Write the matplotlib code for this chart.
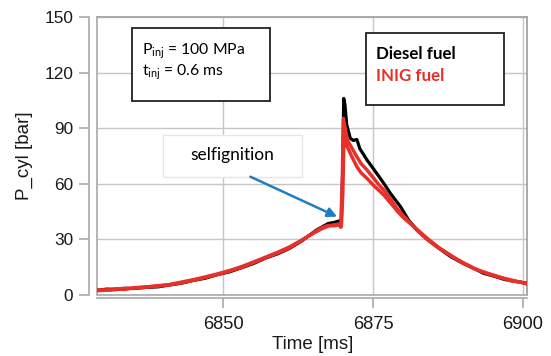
import matplotlib
matplotlib.use("Agg")
import matplotlib.pyplot as plt
from matplotlib.patches import Rectangle

# cylinder pressure traces
diesel_t = [6829.0, 6830.5, 6832.0, 6833.5, 6835.0, 6837.0, 6839.0, 6841.0, 6843.0,
            6845.0, 6847.0, 6849.0, 6851.0, 6853.0, 6855.0, 6857.0, 6859.0, 6861.0,
            6863.0, 6864.5, 6865.5, 6866.5, 6867.5, 6868.5, 6869.3, 6869.7, 6869.95,
            6870.1, 6870.3, 6870.6, 6871.2, 6871.7, 6872.3, 6872.8, 6873.4, 6874.0,
            6875.0, 6876.0, 6876.8, 6878.0, 6879.6, 6881.0, 6882.4, 6884.0, 6886.0,
            6888.0, 6890.0, 6892.0, 6893.5, 6895.0, 6897.0, 6899.0, 6900.8]
diesel_p = [2.6, 3.2, 2.9, 3.6, 3.5, 4.1, 4.4, 5.4, 6.4,
            7.9, 9.1, 11.0, 12.5, 14.7, 17.0, 19.9, 22.2, 25.1,
            29.0, 32.6, 35.0, 36.8, 38.6, 39.2, 40.0, 39.0, 70.0,
            106.2, 103.0, 92.0, 84.6, 83.5, 84.0, 79.0, 76.0, 72.9,
            68.5, 64.0, 60.3, 54.5, 47.7, 40.2, 35.1, 30.2, 25.3,
            20.7, 17.2, 14.2, 11.7, 10.4, 8.4, 7.3, 6.3]

inig1_t = [6829.0, 6830.5, 6832.0, 6833.5, 6835.0, 6837.0, 6839.0, 6841.0, 6843.0,
           6845.0, 6847.0, 6849.0, 6851.0, 6853.0, 6855.0, 6857.0, 6859.0, 6861.0,
           6863.0, 6864.5, 6865.5, 6866.5, 6867.5, 6868.5, 6869.3, 6869.6, 6869.85,
           6870.05, 6870.7, 6871.5, 6872.3, 6873.0, 6874.0, 6875.0, 6876.0, 6876.8,
           6878.0, 6879.0, 6880.0, 6881.3, 6882.4, 6884.0, 6885.5, 6887.0, 6888.5,
           6890.0, 6892.0, 6894.0, 6896.0, 6898.0, 6900.0, 6900.8]
inig1_p = [2.3, 2.8, 3.4, 3.0, 3.9, 4.4, 4.8, 5.7, 7.0,
           8.3, 9.8, 11.4, 13.2, 15.3, 17.8, 20.4, 23.0, 25.9,
           29.5, 32.4, 34.2, 35.9, 37.2, 37.9, 38.3, 36.6, 60.0,
           95.4, 83.7, 79.2, 74.7, 71.0, 67.5, 63.5, 59.5, 56.7,
           51.5, 46.8, 43.0, 38.7, 34.8, 30.3, 26.5, 23.4, 20.2,
           17.6, 14.3, 11.6, 9.7, 8.2, 6.6, 6.1]

inig2_t = [6829.0, 6831.0, 6833.0, 6835.0, 6837.0, 6839.0, 6841.0, 6843.0, 6845.0,
           6847.0, 6849.0, 6851.0, 6853.0, 6855.0, 6857.0, 6859.0, 6861.0, 6863.0,
           6865.0, 6866.5, 6867.5, 6868.5, 6869.3, 6869.7, 6869.95, 6870.15, 6870.4,
           6870.7, 6871.5, 6872.3, 6873.0, 6874.0, 6875.0, 6876.0, 6876.8, 6878.0,
           6879.0, 6880.0, 6881.3, 6882.4, 6884.0, 6886.0, 6888.0, 6890.0, 6892.0,
           6894.0, 6896.0, 6898.0, 6900.0, 6900.8]
inig2_p = [2.8, 2.6, 3.5, 3.7, 4.2, 5.0, 5.5, 6.6, 8.0,
           9.5, 11.1, 12.9, 14.9, 17.4, 20.1, 22.6, 25.4, 29.2,
           33.6, 36.4, 37.6, 37.4, 37.8, 37.0, 55.0, 88.0, 83.0,
           80.0, 74.5, 69.3, 66.0, 63.0, 59.5, 56.5, 54.0, 49.5,
           45.5, 42.0, 38.4, 35.3, 30.8, 25.6, 21.4, 17.4, 14.0,
           11.9, 9.9, 7.7, 6.8, 5.9]

x_ticks = [6850, 6875, 6900]
y_ticks = [0, 30, 60, 90, 120, 150]

RED = "#e8302b"
GRAY = "#a9a9a9"

fig = plt.figure(figsize=(5.51, 3.56), dpi=100)
ax = fig.add_axes([0.1766, 0.1713, 0.7804, 0.7801])

ax.plot(diesel_t, diesel_p, color="black", lw=2.3, zorder=3)
ax.plot(inig1_t, inig1_p, color=RED, lw=2.5, zorder=4)
ax.plot(inig2_t, inig2_p, color=RED, lw=2.5, zorder=4)

ax.set_xlim(6828.9, 6900.8)
ax.set_ylim(0, 150)
ax.set_xticks(x_ticks)
ax.set_yticks(y_ticks)
ax.grid(True, color="#c6c6c6", lw=1.0, zorder=0)
ax.set_axisbelow(True)

# gray frame around the plotting area, axes pushed out a little
for side in ["top", "right"]:
    ax.spines[side].set_color(GRAY)
    ax.spines[side].set_linewidth(1.2)
ax.spines["left"].set_position(("outward", 5.8))
ax.spines["bottom"].set_position(("outward", 2.2))
for side in ["left", "bottom"]:
    ax.spines[side].set_color(GRAY)
    ax.spines[side].set_linewidth(1.2)
ax.add_patch(Rectangle((0, 0), 1, 1, transform=ax.transAxes, fill=False,
                       edgecolor=GRAY, lw=1.2, zorder=1, clip_on=False))

ax.tick_params(axis="y", length=7.2, width=1.2, color=GRAY, pad=4.5,
               labelsize=12.4, labelcolor="#1a1a1a")
ax.tick_params(axis="x", length=7.2, width=1.2, color=GRAY, pad=6,
               labelsize=13.2, labelcolor="#1a1a1a")
for lab in ax.get_xticklabels() + ax.get_yticklabels():
    lab.set_family("Liberation Sans")

ax.set_xlabel("Time [ms]", fontsize=13.5, family="Liberation Sans",
              color="#1a1a1a", labelpad=2)
ax.set_ylabel("P_cyl [bar]", fontsize=13.5, family="Liberation Sans",
              color="#1a1a1a", labelpad=8)

# injection settings box
ax.add_patch(Rectangle((0.080, 0.699), 0.322, 0.261, transform=ax.transAxes,
                       facecolor="white", edgecolor="#222222", lw=1.3, zorder=5))
ax.text(0.103, 0.878, r"P$\mathregular{_{inj}}$ = 100 MPa", transform=ax.transAxes,
        fontsize=11.3, family="Lato", va="center", ha="left", zorder=6)
ax.text(0.103, 0.800, r"t$\mathregular{_{inj}}$ = 0.6 ms", transform=ax.transAxes,
        fontsize=11.3, family="Lato", va="center", ha="left", zorder=6)

# fuel labels box
ax.add_patch(Rectangle((0.625, 0.684), 0.321, 0.258, transform=ax.transAxes,
                       facecolor="white", edgecolor="#222222", lw=1.3, zorder=5))
ax.text(0.648, 0.868, "Diesel fuel", transform=ax.transAxes, fontsize=12.2,
        family="Lato", weight="bold", color="black", va="center", zorder=6)
ax.text(0.648, 0.787, "INIG fuel", transform=ax.transAxes, fontsize=12.2,
        family="Lato", weight="bold", color=RED, va="center", zorder=6)

# self ignition note with arrow
ax.add_patch(Rectangle((0.152, 0.424), 0.323, 0.152, transform=ax.transAxes,
                       facecolor="white", edgecolor="#e6e6e6", lw=1.0, zorder=5))
ax.text(0.313, 0.505, "selfignition", transform=ax.transAxes, fontsize=12.5,
        family="Lato", ha="center", va="center", zorder=6)
ax.annotate("", xy=(6869.0, 42.3), xytext=(6854.5, 63.9),
            arrowprops=dict(arrowstyle="-|>", color="#1f7dc6", lw=1.8,
                            mutation_scale=14, shrinkA=0, shrinkB=0),
            zorder=6)

fig.savefig("out.png", dpi=100)
